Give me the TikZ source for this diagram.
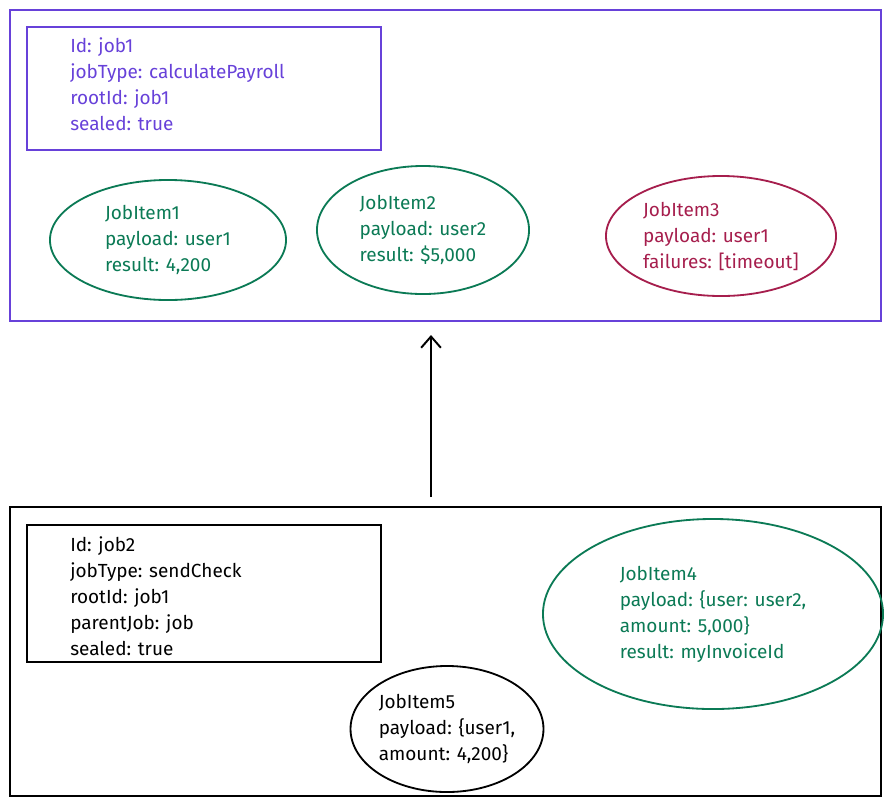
\documentclass[tikz,border=0pt]{standalone}
\usepackage{fontspec}
\setmainfont{Fira Sans}
\usetikzlibrary{positioning,shapes.geometric,arrows.meta}
\definecolor{jobpurple}{HTML}{6741D9}
\definecolor{itemgreen}{HTML}{0B7A55}
\definecolor{itemred}{HTML}{A61E4D}
\tikzset{
  box/.style={draw, line width=1.3pt, rectangle, inner sep=0pt},
  info/.style={align=left, anchor=north west, inner sep=0pt, font=\fontsize{13.5}{18.5}\selectfont},
  item/.style={draw, line width=1.3pt, ellipse, inner sep=0pt, align=left, font=\fontsize{13.5}{18.5}\selectfont},
}
\begin{document}
\begin{tikzpicture}[x=0.025cm, y=-0.025cm]
    \useasboundingbox (0,0) rectangle (893,805);
    % top job
    \node[box, draw=jobpurple, minimum width=21.775cm, minimum height=7.775cm] (Job1) at (445.5,165.5) {};
    \node[box, draw=jobpurple, minimum width=8.85cm, minimum height=3.075cm] (Info1) at (204,88.5) {};
    \node[info, text=jobpurple] (Text1) at (70,37) {Id: job1\\jobType: calculatePayroll\\rootId: job1\\sealed: true};
    \node[item, draw=itemgreen, text=itemgreen, minimum width=5.9cm, minimum height=3cm] (Item1) at (168,240) {JobItem1\\payload: user1\\result: 4,200};
    \node[item, draw=itemgreen, text=itemgreen, minimum width=5.3cm, minimum height=3.2cm] (Item2) at (423,230) {JobItem2\\payload: user2\\result: \$5,000};
    \node[item, draw=itemred, text=itemred, minimum width=5.75cm, minimum height=3cm] (Item3) at (721,236) {JobItem3\\payload: user1\\failures: [timeout]};
    % bottom job
    \node[box, minimum width=21.775cm, minimum height=7.225cm] (Job2) at (445.5,651.5) {};
    \node[box, minimum width=8.85cm, minimum height=3.425cm] (Info2) at (204,593.5) {};
    \node[info] (Text2) at (70,536) {Id: job2\\jobType: sendCheck\\rootId: job1\\parentJob: job\\sealed: true};
    \node[item, draw=itemgreen, text=itemgreen, minimum width=8.5cm, minimum height=4.75cm] (Item4) at (713,614) {JobItem4\\payload: \{user: user2,\\amount: 5,000\}\\result: myInvoiceId};
    \node[item, minimum width=4.75cm, minimum height=3.15cm] (Item5) at (447,729) {JobItem5\\payload: \{user1,\\amount: 4,200\}};
    % link
    \coordinate (From) at (431,497);
    \coordinate (To) at (431,335);
    \draw[-{Straight Barb[length=8pt,width=14pt]}, line width=1.4pt] (From) -- (To);
\end{tikzpicture}
\end{document}
